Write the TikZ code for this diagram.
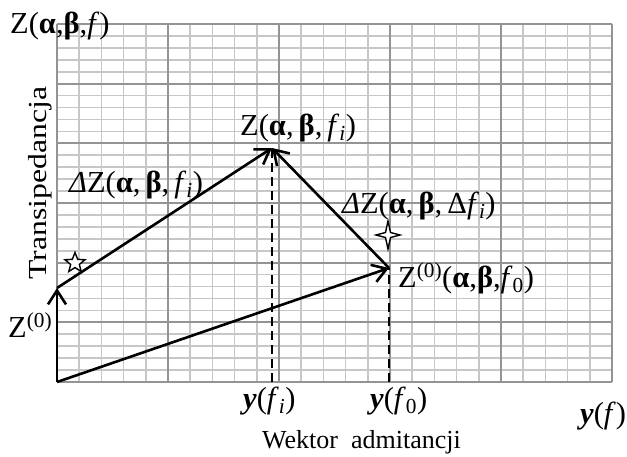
\documentclass[tikz,border=0pt]{standalone}
\usepackage{fontspec}
\setmainfont{Liberation Serif}
\usetikzlibrary{arrows.meta,shapes.geometric}
\newcommand{\mylab}{\fontsize{30.5}{32}\selectfont}
\newcommand{\bal}{\textbf{α}}
\newcommand{\bbe}{\textbf{β}}
\begin{document}
\begin{tikzpicture}[x=1pt,y=-1pt,
  minorline/.style={draw=black!22,line width=1.7pt},
  majorline/.style={draw=black!42,line width=1.9pt},
  vec/.style={line width=2.6pt,-{Straight Barb[length=14pt,width=18pt]}},
  dashline/.style={line width=2.6pt,dash pattern=on 9pt off 5pt},
  lbl/.style={anchor=base west,inner sep=0pt,font=\mylab}]
\useasboundingbox (0,0) rectangle (627,456);
\fill[white] (0,0) rectangle (627,456);
% grid
\foreach \i in {0,...,25}{\draw[minorline] ({57+\i*22.2},24) -- ({57+\i*22.2},382);}
\foreach \j in {0,...,30}{\draw[minorline] (57,{24+\j*11.9333}) -- (612,{24+\j*11.9333});}
\foreach \i in {0,...,5}{\draw[majorline] ({57+\i*111},24) -- ({57+\i*111},382);}
\foreach \j in {0,...,6}{\draw[majorline] (57,{24+\j*59.667}) -- (612,{24+\j*59.667});}
% points
\coordinate (O) at (57,382);
\coordinate (A) at (57,288);
\coordinate (Zi) at (272,148);
\coordinate (Z0) at (389,268);
\coordinate (Bi) at (272,382);
\coordinate (B0) at (389,382);
% dashed
\draw[dashline] (Bi) -- (Zi);
\draw[dashline] (B0) -- (Z0);
% vectors
\draw[vec] (O) -- (A);
\draw[vec] (O) -- (Z0);
\draw[vec] (A) -- (Zi);
\draw[vec] (Z0) -- (Zi);
% markers
\node[star,star points=5,star point ratio=2.3,draw,fill=white,line width=1.4pt,minimum size=21pt,inner sep=0pt] (st) at (75,263) {};
\draw[fill=white,line width=1.4pt] (388,221) -- (390.5,232.5) -- (400,235) -- (390.5,237.5) -- (388,249) -- (385.5,237.5) -- (376,235) -- (385.5,232.5) -- cycle;
% labels
\node[lbl] (l1) at (10,33) {Z(\bal,\bbe,\textit{f})};
\node[inner sep=0pt,rotate=90] (l2) at (40,183) {\scalebox{1.22}[1]{\fontsize{26}{28}\selectfont Transipedancja}};
\node[lbl] (l3) at (240,135) {Z(\bal,\,\bbe,\,\textit{f}\textsubscript{\textit{i}})};
\node[lbl] (l4) at (69,192) {\textit{Δ}Z(\bal,\,\bbe,\,\textit{f}\textsubscript{\textit{i}})};
\node[lbl] (l5) at (342,213) {\textit{Δ}Z(\bal,\,\bbe,\,Δ\textit{f}\textsubscript{\textit{i}})};
\node[lbl] (l6) at (398,287) {Z\textsuperscript{(0)}(\bal,\bbe,\textit{f}\textsubscript{0})};
\node[lbl] (l7) at (8,337) {Z\textsuperscript{(0)}};
\node[lbl] (l8) at (243,408) {\textbf{\textit{y}}(\textit{f}\textsubscript{\textit{i}})};
\node[lbl] (l9) at (370,408) {\textbf{\textit{y}}(\textit{f}\textsubscript{0})};
\node[lbl] (l10) at (580,423) {\textbf{\textit{y}}(\textit{f})};
\node[anchor=base west,inner sep=0pt,font=\fontsize{26}{28}\selectfont] (l11) at (262,448) {Wektor\ \ admitancji};
\end{tikzpicture}
\end{document}
